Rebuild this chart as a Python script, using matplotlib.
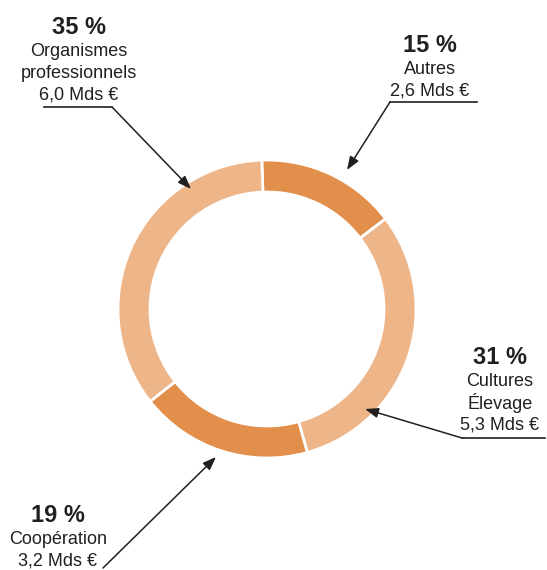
import matplotlib.pyplot as plt

plt.rcParams['font.family'] = ['Liberation Sans', 'DejaVu Sans']

# data (billions of euros)
labels = ["Autres", "Cultures\nÉlevage", "Coopération", "Organismes\nprofessionnels"]
amounts = [2.6, 5.3, 3.2, 6.0]
shares = ["15 %", "31 %", "19 %", "35 %"]
amount_labels = ["2,6 Mds €", "5,3 Mds €", "3,2 Mds €", "6,0 Mds €"]

DARK = "#E38F4C"
LIGHT = "#EEB589"
TEXT = "#231F20"
W, H = 547, 570

fig = plt.figure(figsize=(W / 100, H / 100), dpi=100)
ax = fig.add_axes([0, 0, 1, 1])

ax.pie(amounts, colors=[DARK, LIGHT, DARK, LIGHT], startangle=92, counterclock=False,
       center=(267, H - 309), radius=149,
       wedgeprops=dict(width=32, edgecolor="white", linewidth=2))
ax.set_xlim(0, W)
ax.set_ylim(0, H)
ax.set_aspect("equal")
ax.axis("off")

# label layout in pixel coords (text x center, first line y, underline, arrow)
layout = {
    "Autres": dict(x=430, y=45, ux=(390, 477), uy=102, start=(390, 102), tip=(347, 170)),
    "Cultures\nÉlevage": dict(x=500, y=357, ux=(462, 545), uy=438, start=(462, 438), tip=(365, 409)),
    "Coopération": dict(x=58, y=515, ux=None, uy=None, start=(103, 568), tip=(216, 457)),
    "Organismes\nprofessionnels": dict(x=79, y=27, ux=(44, 112), uy=107, start=(112, 107), tip=(191, 189)),
}

for lab, share, amt in zip(labels, shares, amount_labels):
    p = layout[lab]
    ax.text(p["x"], H - p["y"], share, ha="center", va="center", fontsize=17,
            fontweight="bold", color=TEXT)
    lines = lab.split("\n") + [amt]
    for i, line in enumerate(lines):
        ax.text(p["x"], H - (p["y"] + 24 + 22 * i), line, ha="center", va="center",
                fontsize=13, color=TEXT)
    if p["ux"] is not None:
        ax.plot(p["ux"], [H - p["uy"]] * 2, color=TEXT, lw=1.2)
    ax.annotate("", xy=(p["tip"][0], H - p["tip"][1]),
                xytext=(p["start"][0], H - p["start"][1]),
                arrowprops=dict(arrowstyle="-|>,head_length=0.8,head_width=0.3",
                                color=TEXT, lw=1.1, shrinkA=0, shrinkB=0))

fig.savefig("out.png", dpi=100)
